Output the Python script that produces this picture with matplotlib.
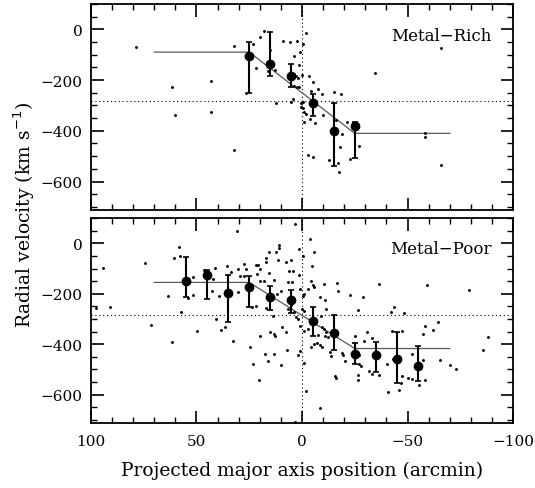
import numpy as np
import matplotlib
matplotlib.use("Agg")
import matplotlib.pyplot as plt
from matplotlib.ticker import MultipleLocator

# systemic velocity and rotation-curve break points
v_sys = -283
rc_x = [70, 25, -25, -70]
rc_rich = [-90, -90, -410, -410]
rc_poor = [-155, -155, -417, -417]

# binned means (metal-rich)
rich_bx = [25, 15, 5, -5, -15, -25]
rich_bv = [-107, -138, -185, -292, -400, -381]
rich_lo = [-250, -184, -226, -343, -539, -509]
rich_hi = [-52, -9, -135, -255, -292, -364]

# binned means (metal-poor)
poor_bx = [55, 45, 35, 25, 15, 5, -5, -15, -25, -35, -45, -55]
poor_bv = [-151, -125, -197, -175, -211, -224, -307, -356, -440, -444, -460, -487]
poor_lo = [-213, -220, -311, -253, -264, -275, -367, -424, -480, -511, -553, -547]
poor_hi = [-55, -104, -124, -128, -168, -187, -253, -283, -397, -393, -353, -407]

# individual stars (metal-rich)
rich_x = [78.5, 61.5, 60.3, 43.3, 43.1, 32.2, 32.1, 26.5, 23.0, 21.8, 19.7, 18.2,
          15.3, 16.1, 12.6, 12.5, 8.9, 5.8, 3.9, 2.2, 1.3, 0.8, 0.0, 2.7, 1.7, 3.6,
          2.2, 1.3, 3.9, 5.2, 4.3, 0.6, 0.3, -1.7, -0.6, -3.3, -5.4, -4.1, -7.4,
          -9.3, -0.6, -0.3, -1.1, -1.7, -0.9, -3.8, -6.2, -9.8, -15.3, -18.6,
          -16.0, -21.2, -19.0, -26.9, -18.0, -3.0, -5.1, -12.8, -16.9, -17.4,
          -22.9, -34.6, -66.0, -66.0, -58.1, -58.1]
rich_v = [-68, -226, -338, -204, -325, -66, -476, -250, -57, -151, -30, -8,
          -82, -163, -160, -289, -47, -50, -105, -47, -139, -88, -180, -184, -190, -178,
          -228, -228, -222, -285, -273, -292, -308, -13, -58, -184, -206, -242, -237,
          -255, -285, -312, -325, -334, -366, -352, -371, -338, -246, -255,
          -358, -364, -411, -461, -463, -497, -505, -514, -526, -561,
          -510, -174, -74, -535, -409, -425]

# individual stars (metal-poor)
poor_x = [94.3, 97.5, 90.8, 74.3, 71.6, 63.5, 61.5, 60.8, 58.3, 58.0, 57.2, 54.2,
          51.7, 51.7, 49.8,
          30.8, 46.0, 46.5, 44.8, 42.0, 41.1, 42.7, 39.5, 40.8, 38.4, 36.3, 35.4,
          33.8, 32.5, 30.3, 30.2, 27.3, 26.7, 29.2, 27.3, 22.0, 23.5, 24.5, 23.4,
          20.5, 21.6, 20.7, 19.9, 21.5, 19.8, 18.2, 19.8, 17.4, 16.3, 17.2, 17.1,
          17.1, 15.8, 15.8, 13.4, 15.2, 13.1, 13.0, 13.3, 13.9, 12.2, 11.0, 11.0,
          11.5, 11.8, 10.0, 10.0, 9.5, 7.4, 7.1, 7.4, 6.8, 6.0, 4.4, 5.2, 3.5, 4.7,
          5.2, 6.5, 3.6, 2.8, 2.0, 1.3, 1.6, 1.1, 0.8, 2.0, 3.2, 0.9,
          -3.6, -5.8, -0.3, -4.7, -4.3, -5.1, -5.8, -2.7, -1.1, -0.6, -10.6, -8.4,
          -10.9, -11.5, -16.6, -16.9, -22.9, -28.9, -36.3, -26.5, -42.2, -43.4,
          0.0, -0.9, -9.0, -3.0, -0.8, -9.5, -10.6, -11.4, -10.9, -12.2, -7.7,
          -5.8, -7.0, -8.7, -9.3, -4.3, -0.8, -1.9, -8.5, -13.4, -13.7, -15.8,
          -16.3, -18.8, -19.3, -20.2, -25.1, -29.5, -30.7, -33.2, -27.2, -28.0,
          -26.7, -26.7, -31.6, -33.0, -36.3, -40.3, -40.6, -46.1, -43.0, -42.8,
          -27.0,
          -59.1, -79.0, -48.2, -47.4, -58.4, -57.5, -61.9, -64.5, -52.0, -57.5,
          -65.5, -70.0, -73.1, -85.9, -88.0, -47.4, -50.1, -52.1, -47.1, -55.6,
          -58.3]
poor_v = [-97, -257, -253, -77, -325, -207, -391, -57, -13, -52, -273, -216,
          -135, -204, -347,
          49, -111, -104, -120, -143, -96, -191, -207, -300, -344, -331, -89,
          -113, -389, -103, -193, -83, -100, -129, -129, -247, -253, -411, -480,
          -540, -87, -87, -103, -120, -151, -151, -367, -440, -467, -256, -57,
          -76, -36, -116, -147, -353, -360, -367, -437, -287, -33, -7, -20,
          -67, -200, -191, -483, -333, -353, -424, -73, -153, -109, -109, -67, 76, -153,
          -244, -260, -273, -293, -300, -23, -124, -180, -327, -444, -707, -427,
          16, -36, -51, -89, -149, -167, -173, -180, -200, -209, -161, -211,
          -223, -260, -157, -189, -204, -211, -163, -264, -271, -253,
          -260, -268, -287, -340, -347, -333, -340, -353, -369, -373, -364,
          -400, -396, -404, -409, -409, -476, -584, -651, -431, -447, -527,
          -533, -433, -444, -467, -369, -389, -353, -376, -480, -487,
          -523, -540, -507, -516, -520, -480, -589, -583, -457, -347,
          -443,
          -164, -187, -277, -349, -329, -360, -343, -313, -440, -463,
          -464, -484, -497, -423, -373, -527, -533, -537, -553, -560,
          -543]

plt.rcParams['font.family'] = ['DejaVu Serif']
fig = plt.figure(figsize=(5.35, 4.89), dpi=100)
ax1 = fig.add_axes([0.170, 0.5685, 0.789, 0.4215])
ax2 = fig.add_axes([0.170, 0.133, 0.789, 0.419])


def panel(ax, sx, sv, bx, bv, lo, hi, rc, label, ty):
    ax.axhline(v_sys, color='k', ls=(0, (1, 2.5)), lw=0.8)
    ax.axvline(0, color='k', ls=(0, (1, 2.5)), lw=0.8)
    ax.plot(rc_x, rc, color='0.35', lw=0.9)
    ax.plot(sx, sv, 'o', color='k', ms=2.1, mew=0)
    bv = np.array(bv)
    err = [bv - np.array(lo), np.array(hi) - bv]
    ax.errorbar(bx, bv, yerr=err, fmt='o', color='k', ms=6, elinewidth=1.5,
                capsize=2.5, capthick=1.2)
    ax.set_xlim(100, -100)
    ax.set_ylim(-712, 100)
    ax.xaxis.set_major_locator(MultipleLocator(50))
    ax.xaxis.set_minor_locator(MultipleLocator(10))
    ax.yaxis.set_major_locator(MultipleLocator(200))
    ax.yaxis.set_minor_locator(MultipleLocator(50))
    ax.tick_params(which='both', direction='in', top=True, right=True, labelsize=11)
    ax.tick_params(which='major', length=9, width=1.2)
    ax.tick_params(which='minor', length=4.5, width=1.0)
    ax.tick_params(axis='x', pad=8)
    ax.tick_params(axis='y', pad=6)
    for s in ax.spines.values():
        s.set_linewidth(1.3)
    ax.text(0.95, ty, label, transform=ax.transAxes, ha='right', va='center',
            fontsize=12)


panel(ax1, rich_x, rich_v, rich_bx, rich_bv, rich_lo, rich_hi, rc_rich,
      'Metal\u2212Rich', 0.845)
panel(ax2, poor_x, poor_v, poor_bx, poor_bv, poor_lo, poor_hi, rc_poor,
      'Metal\u2212Poor', 0.85)
ax1.tick_params(labelbottom=False)

ax2.set_xlabel('Projected major axis position (arcmin)', fontsize=13.5, labelpad=9)
fig.text(0.045, 0.56, r'Radial velocity (km s$^{-1}$)', rotation=90,
         ha='center', va='center', fontsize=13.5)

fig.savefig('out.png', dpi=100)
